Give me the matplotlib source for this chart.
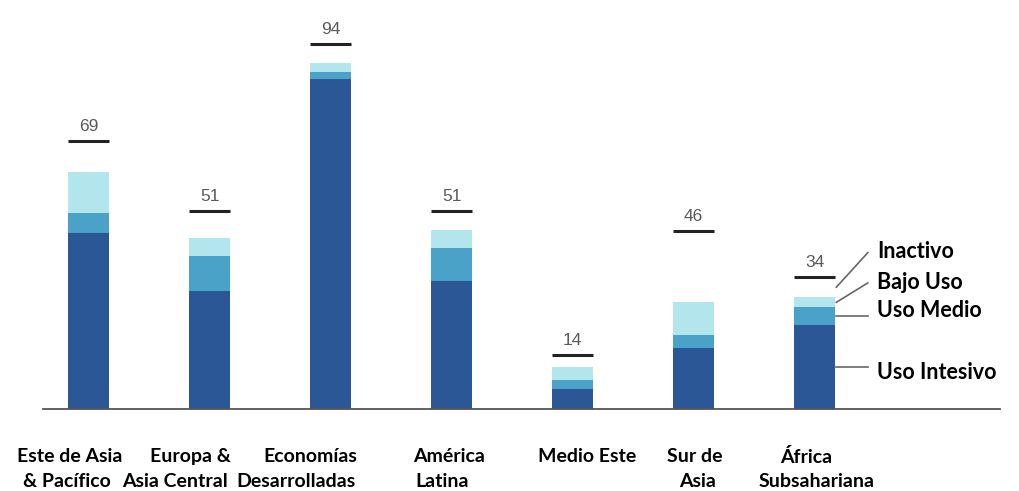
import numpy as np
import matplotlib.pyplot as plt

regiones = ["Este de Asia\n& Pacífico", "Europa &\nAsia Central", "Economías\nDesarrolladas",
            "América\nLatina", "Medio Este", "Sur de\nAsia", "África\nSubsahariana"]
uso_intensivo = [45.4, 30.4, 85.0, 33.0, 5.2, 15.7, 21.6]
uso_medio = [5.2, 9.0, 1.8, 8.5, 2.3, 3.4, 4.6]
bajo_uso = [10.6, 4.6, 2.3, 4.6, 3.4, 8.5, 2.6]
totales = [69, 51, 94, 51, 14, 46, 34]

c_int = "#2c5797"
c_med = "#4aa2c8"
c_bajo = "#b3e5ec"

fig = plt.figure(figsize=(10.19, 4.91), dpi=100)
ax = fig.add_axes([0.042, 0.167, 0.939, 0.79])

x = np.arange(len(regiones))
w = 0.34
a = np.array(uso_intensivo)
b = np.array(uso_medio)
c = np.array(bajo_uso)
ax.bar(x, a, w, color=c_int)
ax.bar(x, b, w, bottom=a, color=c_med)
ax.bar(x, c, w, bottom=a + b, color=c_bajo)

# total marker: black line + value
for xi, t in zip(x, totales):
    ax.hlines(t, xi - w / 2, xi + w / 2, color="#222222", lw=2.2)
    ax.annotate(str(t), (xi, t), xytext=(0, 5), textcoords="offset points",
                ha="center", va="bottom", fontsize=12.5, color="#5a5a5a",
                family="Liberation Sans")

# region labels, each line placed a bit off the bar centre like the original
off1 = [-0.16, -0.16, -0.17, -0.02, 0.12, 0.01, -0.07]
off2 = [-0.18, -0.29, -0.29, -0.08, 0.0, 0.03, 0.02]
tr = ax.get_xaxis_transform()
for xi, lab, o1, o2 in zip(x, regiones, off1, off2):
    lines = lab.split("\n")
    ax.text(xi + o1, -0.1, lines[0], transform=tr, ha="center", va="top",
            fontsize=14, fontweight="bold", family="Lato")
    if len(lines) > 1:
        ax.text(xi + o2, -0.165, lines[1], transform=tr, ha="center", va="top",
                fontsize=14, fontweight="bold", family="Lato")

# leader labels on last bar
i = len(regiones) - 1
mids = [a[i] + b[i] + c[i] + (totales[i] - a[i] - b[i] - c[i]) / 2,
        a[i] + b[i] + c[i] / 2,
        a[i] + b[i] / 2,
        a[i] / 2]
names = ["Inactivo", "Bajo Uso", "Uso Medio", "Uso Intesivo"]
ty = [40.5, 32.7, 25.3, 9.3]
for m, n, y in zip(mids, names, ty):
    ax.plot([i + w / 2 + 0.01, i + 0.44], [m, y - 0.2 if abs(y - m) > 2 else m],
            color="#666666", lw=1.2)
    ax.text(i + 0.52, y, n, ha="left", va="center", fontsize=15.5, fontweight="bold",
            family="Lato")

ax.set_xlim(-0.38, 7.53)
ax.set_ylim(0, 100)
for s in ["top", "right", "left"]:
    ax.spines[s].set_visible(False)
ax.spines["bottom"].set_color("#555555")
ax.spines["bottom"].set_linewidth(1.3)
ax.set_xticks([])
ax.set_yticks([])

fig.savefig("out.png", dpi=100)
